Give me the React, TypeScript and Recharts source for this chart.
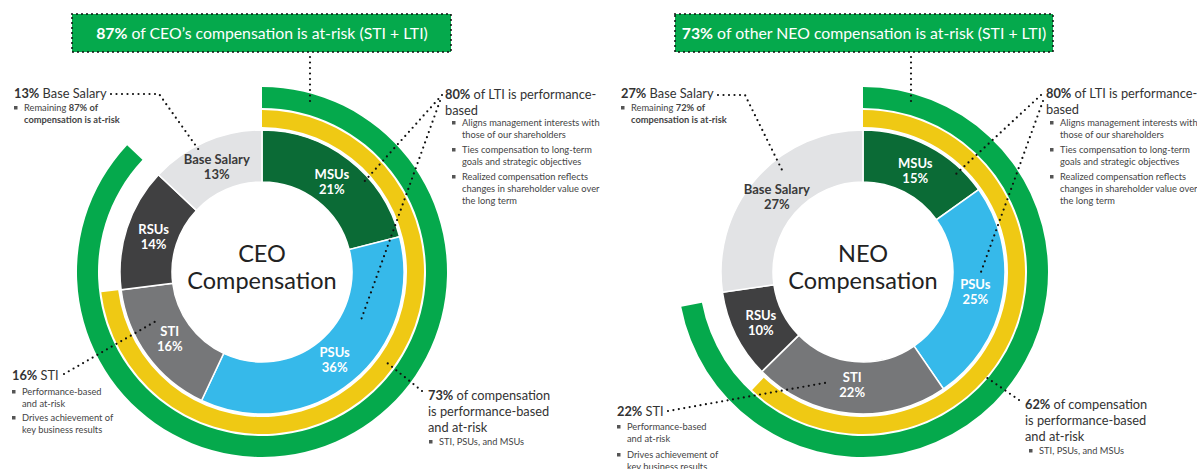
import React from 'react';
import { PieChart, Pie, Cell } from 'recharts';

const segmentNames = ['MSUs', 'PSUs', 'STI', 'RSUs', 'Base Salary'];
const segmentColors = ['#0b6b36', '#36b9ea', '#767779', '#404041', '#e2e3e5'];
const labelColors = ['#fff', '#fff', '#fff', '#fff', '#3a3a3a'];
const ceoValues = [21, 36, 16, 14, 13];
const neoValues = [15, 25, 22, 10, 27];

// share of pay covered by the yellow (performance-based) and green (at-risk) rings
const ceoPerformanceBased = 73;
const ceoAtRisk = 87;
const neoPerformanceBased = 62;
const neoAtRisk = 72;

const YELLOW = '#efc914';
const GREEN = '#05a94c';
const FONT = 'Lato, "Open Sans", sans-serif';

const toSegments = (values: number[]) =>
  segmentNames.map((name, i) => ({ name, value: values[i] }));

const toRing = (covered: number) => [
  { name: 'covered', value: covered },
  { name: 'rest', value: 100 - covered },
];

const RAD = Math.PI / 180;

function renderSegmentLabel(props: any) {
  const { cx, cy, midAngle, innerRadius, outerRadius, index, value, name } = props;
  const r = (innerRadius + outerRadius) / 2 - 2;
  const x = cx + r * Math.cos(-midAngle * RAD);
  const y = cy + r * Math.sin(-midAngle * RAD);
  return (
    <text
      x={x}
      y={y}
      textAnchor="middle"
      fill={labelColors[index]}
      fontFamily={FONT}
      fontWeight="bold"
      fontSize={13}
    >
      <tspan x={x} dy={-3}>{name}</tspan>
      <tspan x={x} dy={15}>{value}%</tspan>
    </text>
  );
}

function Dots({ points }: { points: number[][] }) {
  return (
    <polyline
      points={points.map((p) => p.join(',')).join(' ')}
      fill="none"
      stroke="#111"
      strokeWidth={2.2}
      strokeLinecap="round"
      strokeDasharray="0 5.5"
    />
  );
}

function Bullet({ x, y, lines }: { x: number; y: number; lines: React.ReactNode[] }) {
  return (
    <g>
      <rect x={x} y={y - 5} width={3.5} height={3.5} fill="#555" />
      {lines.map((l, i) => (
        <text key={i} x={x + 10} y={y + i * 12} fontSize={9.3} fill="#444" fontFamily={FONT}>
          {l}
        </text>
      ))}
    </g>
  );
}

function Header({ x, y, pct, rest }: { x: number; y: number; pct: string; rest: string[] }) {
  return (
    <text x={x} y={y} fontSize={12.8} fill="#333" fontFamily={FONT}>
      <tspan fontWeight="bold">{pct}</tspan>
      <tspan>{rest[0]}</tspan>
      {rest.slice(1).map((r, i) => (
        <tspan key={i} x={x} dy={16}>{r}</tspan>
      ))}
    </text>
  );
}

function TitleBox({ cx, x, w, pct, text }: { cx: number; x: number; w: number; pct: string; text: string }) {
  return (
    <g>
      <rect x={x} y={14} width={w} height={38} fill={GREEN} />
      <rect x={x} y={14} width={w} height={38} fill="none" stroke="#111" strokeWidth={2}
        strokeDasharray="0 5" strokeLinecap="round" />
      <text x={cx} y={38.5} textAnchor="middle" fill="#fff" fontSize={15.8} fontFamily={FONT}>
        <tspan fontWeight="bold">{pct}</tspan>
        <tspan>{text}</tspan>
      </text>
    </g>
  );
}

function CenterText({ cx, cy, title }: { cx: number; cy: number; title: string }) {
  return (
    <text x={cx} y={cy} textAnchor="middle" fill="#222" fontSize={23.5} fontFamily={FONT}>
      <tspan x={cx} dy={-10}>{title}</tspan>
      <tspan x={cx} dy={27}>Compensation</tspan>
    </text>
  );
}

function Overlay() {
  return (
    <svg width={1197} height={469} style={{ position: 'absolute', left: 0, top: 0, pointerEvents: 'none' }}>
      {/* CEO side */}
      <TitleBox cx={262} x={72} w={379} pct="87%" text=" of CEO’s compensation is at-risk (STI + LTI)" />
      <Dots points={[[310, 57], [310, 106]]} />
      <CenterText cx={262} cy={272} title="CEO" />

      <Header x={14} y={98} pct="13%" rest={[' Base Salary']} />
      <Dots points={[[111, 94], [159, 94], [201, 153]]} />
      <Bullet x={14} y={111} lines={[
        <><tspan>Remaining </tspan><tspan fontWeight="bold">87% of</tspan></>,
        <tspan fontWeight="bold">compensation is at-risk</tspan>,
      ]} />

      <Header x={445} y={99} pct="80%" rest={[' of LTI is performance-', 'based']} />
      <Dots points={[[442, 95], [363, 183]]} />
      <Dots points={[[440, 101], [361, 320]]} />
      <Bullet x={452} y={126} lines={['Aligns management interests with', 'those of our shareholders']} />
      <Bullet x={452} y={153} lines={['Ties compensation to long-term', 'goals and strategic objectives']} />
      <Bullet x={452} y={180} lines={['Realized compensation reflects', 'changes in shareholder value over', 'the long term']} />

      <Header x={12} y={380} pct="16%" rest={[' STI']} />
      <Dots points={[[64, 374], [158, 320]]} />
      <Bullet x={12} y={395} lines={['Performance-based', 'and at-risk']} />
      <Bullet x={12} y={421} lines={['Drives achievement of', 'key business results']} />

      <Header x={428} y={400} pct="73%" rest={[' of compensation', 'is performance-based', 'and at-risk']} />
      <Dots points={[[422, 391], [386, 362]]} />
      <Bullet x={429} y={445} lines={['STI, PSUs, and MSUs']} />

      {/* NEO side */}
      <TitleBox cx={864} x={675} w={378} pct="73%" text=" of other NEO compensation is at-risk (STI + LTI)" />
      <Dots points={[[911, 57], [911, 106]]} />
      <CenterText cx={863} cy={272} title="NEO" />

      <Header x={621} y={98} pct="27%" rest={[' Base Salary']} />
      <Dots points={[[718, 95], [745, 95], [783, 172]]} />
      <Bullet x={621} y={111} lines={[
        <><tspan>Remaining </tspan><tspan fontWeight="bold">72% of</tspan></>,
        <tspan fontWeight="bold">compensation is at-risk</tspan>,
      ]} />

      <Header x={1046} y={98} pct="80%" rest={[' of LTI is performance-', 'based']} />
      <Dots points={[[1041, 95], [956, 174]]} />
      <Dots points={[[1043, 101], [981, 272]]} />
      <Bullet x={1050} y={126} lines={['Aligns management interests with', 'those of our shareholders']} />
      <Bullet x={1050} y={153} lines={['Ties compensation to long-term', 'goals and strategic objectives']} />
      <Bullet x={1050} y={180} lines={['Realized compensation reflects', 'changes in shareholder value over', ' the long term']} />

      <Header x={617} y={416} pct="22%" rest={[' STI']} />
      <Dots points={[[668, 411], [830, 382]]} />
      <Bullet x={617} y={430} lines={['Performance-based', 'and at-risk']} />
      <Bullet x={617} y={458} lines={['Drives achievement of', 'key business results']} />

      <Header x={1025} y={409} pct="62%" rest={[' of compensation', 'is performance-based', 'and at-risk']} />
      <Dots points={[[1019, 400], [983, 375]]} />
      <Bullet x={1029} y={454} lines={['STI, PSUs, and MSUs']} />
    </svg>
  );
}

function Donut({ cx, cy, values, performanceBased, atRisk, id }: {
  cx: number; cy: number; values: number[]; performanceBased: number; atRisk: number; id: string;
}) {
  return [
    <Pie
      key={id + '-green'}
      data={toRing(atRisk)}
      dataKey="value"
      cx={cx}
      cy={cy}
      innerRadius={164}
      outerRadius={185}
      startAngle={90}
      endAngle={-270}
      stroke="none"
      isAnimationActive={false}
    >
      <Cell fill={GREEN} />
      <Cell fill="none" />
    </Pie>,
    <Pie
      key={id + '-yellow'}
      data={toRing(performanceBased)}
      dataKey="value"
      cx={cx}
      cy={cy}
      innerRadius={145}
      outerRadius={162}
      startAngle={90}
      endAngle={-270}
      stroke="none"
      isAnimationActive={false}
    >
      <Cell fill={YELLOW} />
      <Cell fill="none" />
    </Pie>,
    <Pie
      key={id + '-segments'}
      data={toSegments(values)}
      dataKey="value"
      nameKey="name"
      cx={cx}
      cy={cy}
      innerRadius={90}
      outerRadius={142}
      startAngle={90}
      endAngle={-270}
      stroke="#fff"
      strokeWidth={1.5}
      label={renderSegmentLabel}
      labelLine={false}
      isAnimationActive={false}
    >
      {values.map((_, i) => (
        <Cell key={i} fill={segmentColors[i]} />
      ))}
    </Pie>,
  ];
}

export default function App() {
  return (
    <div style={{ position: 'absolute', left: 0, top: 0, width: 1197, height: 469, background: '#fff' }}>
      <PieChart width={1197} height={469} margin={{ top: 0, right: 0, bottom: 0, left: 0 }}>
        {Donut({ cx: 262, cy: 272, values: ceoValues, performanceBased: ceoPerformanceBased, atRisk: ceoAtRisk, id: 'ceo' })}
        {Donut({ cx: 863, cy: 272, values: neoValues, performanceBased: neoPerformanceBased, atRisk: neoAtRisk, id: 'neo' })}
      </PieChart>
      <Overlay />
    </div>
  );
}
